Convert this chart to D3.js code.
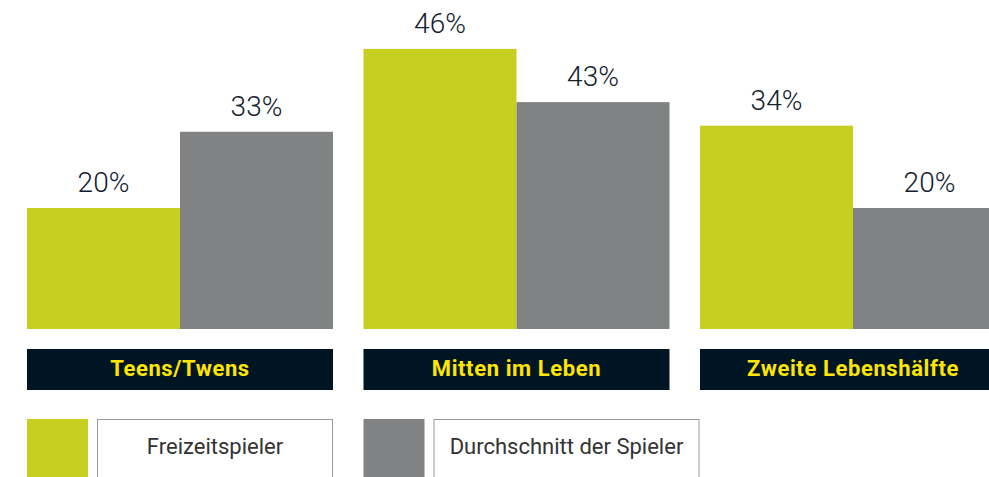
<!DOCTYPE html>
<html>
<head>
<meta charset="utf-8">
<script src="https://cdn.jsdelivr.net/npm/d3@7/dist/d3.min.js"></script>
<style>
  html, body { margin: 0; padding: 0; background: #ffffff; overflow: hidden; }
  svg { display: block; }
</style>
</head>
<body>
<svg id="chart" width="989" height="477"></svg>
<script>
// ---- data ----
const categories = ["Teens/Twens", "Mitten im Leben", "Zweite Lebenshälfte"];
const seriesNames = ["Freizeitspieler", "Durchschnitt der Spieler"];
// bar heights as drawn in the picture (percent)
const freizeitValues = [20, 46.3, 33.6];
const durchschnittValues = [32.6, 37.5, 20];
// value labels as printed above the bars
const freizeitLabels = ["20%", "46%", "34%"];
const durchschnittLabels = ["33%", "43%", "20%"];

// ---- styles ----
const colors = ["#c7cf21", "#818284"];
const svg = d3.select("#chart");

const x0 = d3.scaleBand().domain(categories).range([27, 1006]).paddingInner(0.09064).paddingOuter(0);
const x1 = d3.scaleBand().domain(seriesNames).range([0, x0.bandwidth()]).padding(0);
const y = d3.scaleLinear().domain([0, 50]).range([329, 26.5]);

const rows = categories.map((c, i) => ({
  cat: c,
  items: [
    { s: seriesNames[0], v: freizeitValues[i], label: freizeitLabels[i] },
    { s: seriesNames[1], v: durchschnittValues[i], label: durchschnittLabels[i] }
  ]
}));

const g = svg.selectAll("g.grp").data(rows).enter().append("g")
  .attr("class", "grp")
  .attr("transform", d => `translate(${x0(d.cat)},0)`);

g.selectAll("rect.bar").data(d => d.items).enter().append("rect")
  .attr("class", "bar")
  .attr("x", d => x1(d.s))
  .attr("width", x1.bandwidth())
  .attr("y", d => y(d.v))
  .attr("height", d => y(0) - y(d.v))
  .attr("fill", (d, i) => colors[i]);

g.selectAll("text.val").data(d => d.items).enter().append("text")
  .attr("class", "val")
  .attr("x", d => x1(d.s) + x1.bandwidth() / 2)
  .attr("y", d => y(d.v) - 16)
  .attr("text-anchor", "middle")
  .attr("font-family", "Roboto, 'Noto Sans', sans-serif")
  .attr("font-weight", 300)
  .attr("font-size", 28)
  .attr("fill", "#13202e")
  .text(d => d.label);

// category boxes
g.append("rect")
  .attr("x", 0).attr("y", 349)
  .attr("width", x0.bandwidth()).attr("height", 41)
  .attr("fill", "#001524");
g.append("text")
  .attr("x", x0.bandwidth() / 2).attr("y", 376)
  .attr("text-anchor", "middle")
  .attr("font-family", "Roboto, 'Noto Sans', sans-serif")
  .attr("font-weight", "bold")
  .attr("font-size", 22)
  .attr("letter-spacing", 0.6)
  .attr("fill", "#ffe500")
  .text(d => d.cat);

// legend
const legendBoxW = [235, 265];
const leg = svg.selectAll("g.leg").data(seriesNames).enter().append("g")
  .attr("class", "leg")
  .attr("transform", (d, i) => `translate(${x0(categories[i])},419)`);
leg.append("rect")
  .attr("x", 0).attr("y", 0).attr("width", 61).attr("height", 70)
  .attr("fill", (d, i) => colors[i]);
leg.append("rect")
  .attr("x", 70.5).attr("y", 0.5)
  .attr("width", (d, i) => legendBoxW[i]).attr("height", 70)
  .attr("fill", "#ffffff").attr("stroke", "#9a9a9a").attr("stroke-width", 1);
leg.append("text")
  .attr("x", (d, i) => 70.5 + legendBoxW[i] / 2)
  .attr("y", 35)
  .attr("text-anchor", "middle")
  .attr("font-family", "Roboto, 'Noto Sans', sans-serif")
  .attr("font-size", 22)
  .attr("fill", "#333333")
  .text(d => d);
</script>
</body>
</html>
